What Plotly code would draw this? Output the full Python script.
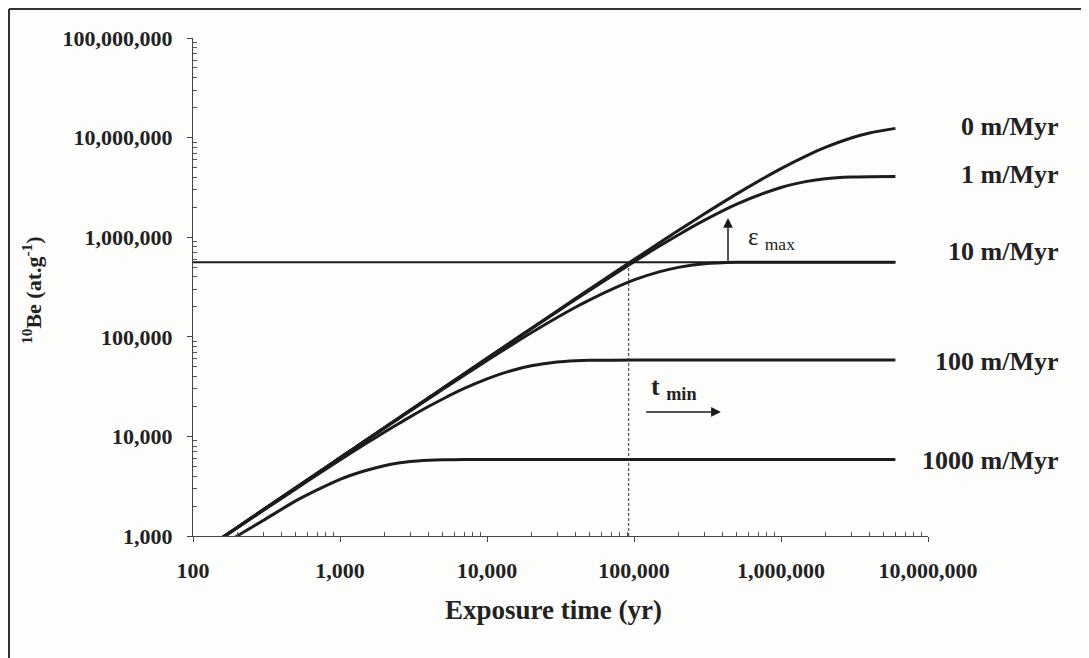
import numpy as np
import plotly.graph_objects as go

# ---- data ----
t_yr = [150, 200, 300, 500, 700, 1000, 1200, 1500, 2000, 2500,
        3000, 4000, 5000, 7000, 10000, 15000, 20000, 30000, 40000, 50000,
        100000, 150000, 200000, 300000, 500000, 1000000, 1500000, 2000000,
        3000000, 4000000, 6000000]

be_0 = [915, 1220, 1830, 3050, 4270, 6100, 7320, 9150, 12200, 15250,
        18300, 24380, 30460, 42630, 60860, 91180, 121440, 181730, 241750, 301480,
        596000, 883700, 1165000, 1708000, 2723000, 4884000, 6600000, 7960000,
        9900000, 11120000, 12375000]
be_1 = [915, 1220, 1830, 3050, 4270, 6095, 7313, 9140, 12180, 15220,
        18260, 24330, 30390, 42480, 60540, 90480, 120200, 178900, 236800, 293800,
        566600, 819100, 1054000, 1473000, 2145000, 3157000, 3634000, 3860000,
        4016000, 4051000, 4061000]
be_10 = [914, 1219, 1827, 3042, 4254, 6067, 7273, 9076, 12070, 15050,
         18010, 23880, 29690, 41120, 57810, 84410, 109700, 156200, 197900, 235300,
         372100, 451500, 497600, 540000, 559100, 561600, 561600, 561600,
         561600, 561600, 561600]
be_100 = [908, 1207, 1801, 2971, 4117, 5792, 6880, 8467, 11010, 13420,
          15710, 19940, 23750, 30290, 37850, 46200, 51160, 55850, 57500, 58080,
          58390, 58390, 58390, 58390, 58390, 58390, 58390, 58390,
          58390, 58390, 58390]
be_1000 = [760, 1000, 1430, 2250, 2900, 3700, 4100, 4550, 5080, 5400,
           5590, 5750, 5820, 5855, 5863, 5863, 5863, 5863, 5863, 5863,
           5863, 5863, 5863, 5863, 5863, 5863, 5863, 5863,
           5863, 5863, 5863]

series = [("0 m/Myr", be_0), ("1 m/Myr", be_1), ("10 m/Myr", be_10),
          ("100 m/Myr", be_100), ("1000 m/Myr", be_1000)]
label_y = [12900000, 4300000, 720000, 56000, 5700]

eps_level = 560000       # horizontal threshold line
t_cross = 92000          # vertical dashed line
eps_arrow_t = 436000
eps_arrow_top = 1560000
tmin_arrow = (118000, 390000, 17600)   # tail x, head x, y
xtick_vals = [100, 1000, 10000, 100000, 1000000, 10000000]
xtick_text = ["100", "1,000", "10,000", "100,000", "1,000,000", "10,000,000"]
ytick_vals = [1000, 10000, 100000, 1000000, 10000000, 100000000]
ytick_text = ["1,000", "10,000", "100,000", "1,000,000", "10,000,000", "100,000,000"]

INK = "#1c1c1c"
SERIF = "Liberation Serif"

fig = go.Figure()
for name, vals in series:
    fig.add_trace(go.Scatter(x=t_yr, y=vals, mode="lines", name=name,
                             line=dict(color=INK, width=3, shape="spline", smoothing=0.8),
                             showlegend=False))

# threshold line and dashed vertical
fig.add_trace(go.Scatter(x=[100, 6000000], y=[eps_level, eps_level], mode="lines",
                         line=dict(color=INK, width=2), showlegend=False))
fig.add_trace(go.Scatter(x=[t_cross, t_cross], y=[1000, eps_level], mode="lines",
                         line=dict(color="#333333", width=1, dash="3px,2px"), showlegend=False))

minor_x = [m * 10 ** k for k in range(2, 7) for m in range(2, 10)]
minor_y = [m * 10 ** k for k in range(3, 8) for m in range(2, 10)]

axis_font = dict(family=SERIF, size=22, color="#222222", weight="bold")
fig.update_xaxes(type="log", range=[2, 7], tickvals=xtick_vals, ticktext=xtick_text,
                 showgrid=False, zeroline=False, showline=True, linecolor="#444444",
                 linewidth=1, ticks="outside", ticklen=5, tickcolor="#444444",
                 tickfont=axis_font, ticklabelstandoff=10,
                 minor=dict(tickvals=minor_x, ticks="inside", ticklen=4,
                            tickcolor="#555555", showgrid=False))
fig.update_yaxes(type="log", range=[3, 8], tickvals=ytick_vals, ticktext=ytick_text,
                 showgrid=False, zeroline=False, showline=True, linecolor="#444444",
                 linewidth=1, ticks="outside", ticklen=5, tickcolor="#444444",
                 tickfont=axis_font, ticklabelstandoff=10,
                 minor=dict(tickvals=minor_y, ticks="inside", ticklen=4,
                            tickcolor="#555555", showgrid=False))

ann = []
label_font = dict(family=SERIF, size=26, color="#222222", weight="bold")
for (name, _), ly in zip(series, label_y):
    ann.append(dict(x=1.18, xref="paper", y=np.log10(ly), yref="y", text=name,
                    showarrow=False, xanchor="right", yanchor="middle", font=label_font))

# epsilon max arrow
ann.append(dict(x=np.log10(eps_arrow_t), y=np.log10(eps_arrow_top), xref="x", yref="y",
                ax=np.log10(eps_arrow_t), ay=np.log10(eps_level), axref="x", ayref="y",
                text="", showarrow=True, arrowhead=2, arrowsize=1.3, arrowwidth=1.5,
                arrowcolor=INK))
ann.append(dict(x=np.log10(eps_arrow_t) + 0.12, y=5.99, xref="x", yref="y",
                text="ε <sub>max</sub>", showarrow=False, xanchor="left", yanchor="middle",
                font=dict(family=SERIF, size=25, color="#222222")))
# t min arrow
ann.append(dict(x=np.log10(tmin_arrow[1]), y=np.log10(tmin_arrow[2]), xref="x", yref="y",
                ax=np.log10(tmin_arrow[0]), ay=np.log10(tmin_arrow[2]), axref="x", ayref="y",
                text="", showarrow=True, arrowhead=2, arrowsize=1.3, arrowwidth=1.5,
                arrowcolor=INK))
ann.append(dict(x=5.1, y=4.49, xref="x", yref="y",
                text="t <sub>min</sub>", showarrow=False, xanchor="left", yanchor="middle",
                font=dict(family=SERIF, size=26, color="#222222", weight="bold")))
# axis titles
ann.append(dict(x=(553 - 193) / 735, y=(536 - 610) / 498, xref="paper", yref="paper",
                text="Exposure time (yr)", showarrow=False, xanchor="center", yanchor="middle",
                font=dict(family=SERIF, size=27, color="#222222", weight="bold")))
ann.append(dict(x=(32 - 193) / 735, y=(536 - 290) / 498, xref="paper", yref="paper",
                text="<sup>10</sup>Be (at.g<sup>-1</sup>)", showarrow=False, textangle=-90,
                xanchor="center", yanchor="middle",
                font=dict(family=SERIF, size=22, color="#222222", weight="bold")))

# page frame (left and top edges); coordinates in page pixels
px = lambda v: (v - 193) / 735
py = lambda v: (536 - v) / 498
shapes = [
    dict(type="line", xref="paper", yref="paper", x0=px(9), x1=px(9), y0=py(660), y1=py(9),
         line=dict(color="#333333", width=2)),
    dict(type="line", xref="paper", yref="paper", x0=px(9), x1=px(1090), y0=py(9), y1=py(9),
         line=dict(color="#333333", width=2)),
]

# the page body adds an 8px offset, so the figure is 8px smaller and shifted
fig.update_layout(width=1081, height=650, margin=dict(l=185, r=161, t=30, b=122),
                  paper_bgcolor="#fdfdfc", plot_bgcolor="#fdfdfc",
                  annotations=ann, shapes=shapes, showlegend=False)

fig.write_html("out.html")
